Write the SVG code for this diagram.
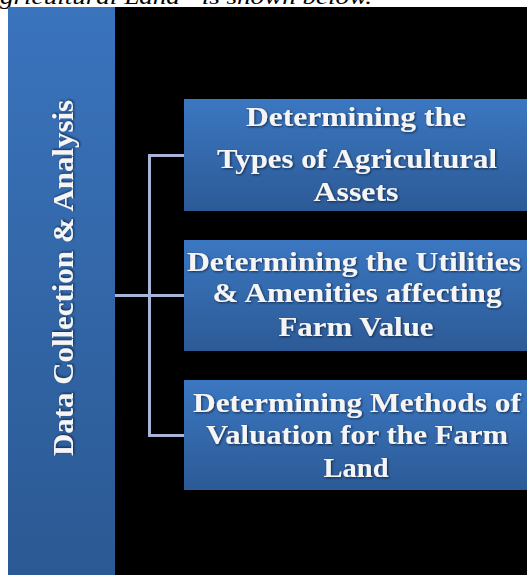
<svg xmlns="http://www.w3.org/2000/svg" width="527" height="575" viewBox="0 0 527 575">
  <defs>
    <linearGradient id="barGrad" x1="0" y1="0" x2="0" y2="1">
      <stop offset="0" stop-color="#3a74bd"/>
      <stop offset="1" stop-color="#2b5993"/>
    </linearGradient>
    <linearGradient id="boxGrad" x1="0" y1="0" x2="0" y2="1">
      <stop offset="0" stop-color="#3b77c1"/>
      <stop offset="1" stop-color="#2c5a96"/>
    </linearGradient>
    <filter id="ts" x="-10%" y="-30%" width="120%" height="160%">
      <feDropShadow dx="1" dy="1" stdDeviation="0.8" flood-color="#0a1a33" flood-opacity="0.8"/>
    </filter>
  </defs>
  <style>
    .lbl { font-family: "Liberation Serif", "DejaVu Serif", serif; font-weight: bold; fill: #f5f5f5; text-anchor: middle; }
    .box { font-size: 28px; }
    .conn { stroke: #a7b5d8; stroke-width: 3; fill: none; }
    .cap { font-family: "Liberation Serif", serif; font-style: italic; font-size: 22px; fill: #000; }
  </style>
  <rect x="0" y="0" width="527" height="575" fill="#ffffff"/>
  <text class="cap" x="0" y="3.5" textLength="372" lengthAdjust="spacingAndGlyphs">gricultural Land” is shown below.</text>
  <rect x="8" y="7" width="519" height="568" fill="#000000"/>

  <g id="bar">
    <rect x="8" y="7" width="107" height="568" fill="url(#barGrad)"/>
    <text class="lbl" transform="translate(73,278) rotate(-90)" x="0" y="0" font-size="29" textLength="356" lengthAdjust="spacingAndGlyphs" filter="url(#ts)">Data Collection &amp; Analysis</text>
  </g>

  <g id="connectors">
    <path class="conn" d="M115 295.5 H184"/>
    <path class="conn" d="M184 155.5 H149.5 V435.5 H184"/>
  </g>

  <g id="box1">
    <rect x="184" y="99" width="343" height="112" fill="url(#boxGrad)"/>
    <g class="lbl box" filter="url(#ts)">
      <text x="356" y="126" textLength="220" lengthAdjust="spacingAndGlyphs">Determining the</text>
      <text x="357" y="168" textLength="280" lengthAdjust="spacingAndGlyphs">Types of Agricultural</text>
      <text x="356" y="201" textLength="85" lengthAdjust="spacingAndGlyphs">Assets</text>
    </g>
  </g>

  <g id="box2">
    <rect x="184" y="240" width="343" height="111" fill="url(#boxGrad)"/>
    <g class="lbl box" filter="url(#ts)">
      <text x="354" y="271" textLength="334" lengthAdjust="spacingAndGlyphs">Determining the Utilities</text>
      <text x="357" y="302" textLength="289" lengthAdjust="spacingAndGlyphs">&amp; Amenities affecting</text>
      <text x="356" y="336" textLength="155" lengthAdjust="spacingAndGlyphs">Farm Value</text>
    </g>
  </g>

  <g id="box3">
    <rect x="184" y="380" width="343" height="110" fill="url(#boxGrad)"/>
    <g class="lbl box" filter="url(#ts)">
      <text x="357" y="412" textLength="328" lengthAdjust="spacingAndGlyphs">Determining Methods of</text>
      <text x="357" y="444" textLength="302" lengthAdjust="spacingAndGlyphs">Valuation for the Farm</text>
      <text x="356" y="477" textLength="65" lengthAdjust="spacingAndGlyphs">Land</text>
    </g>
  </g>
</svg>
